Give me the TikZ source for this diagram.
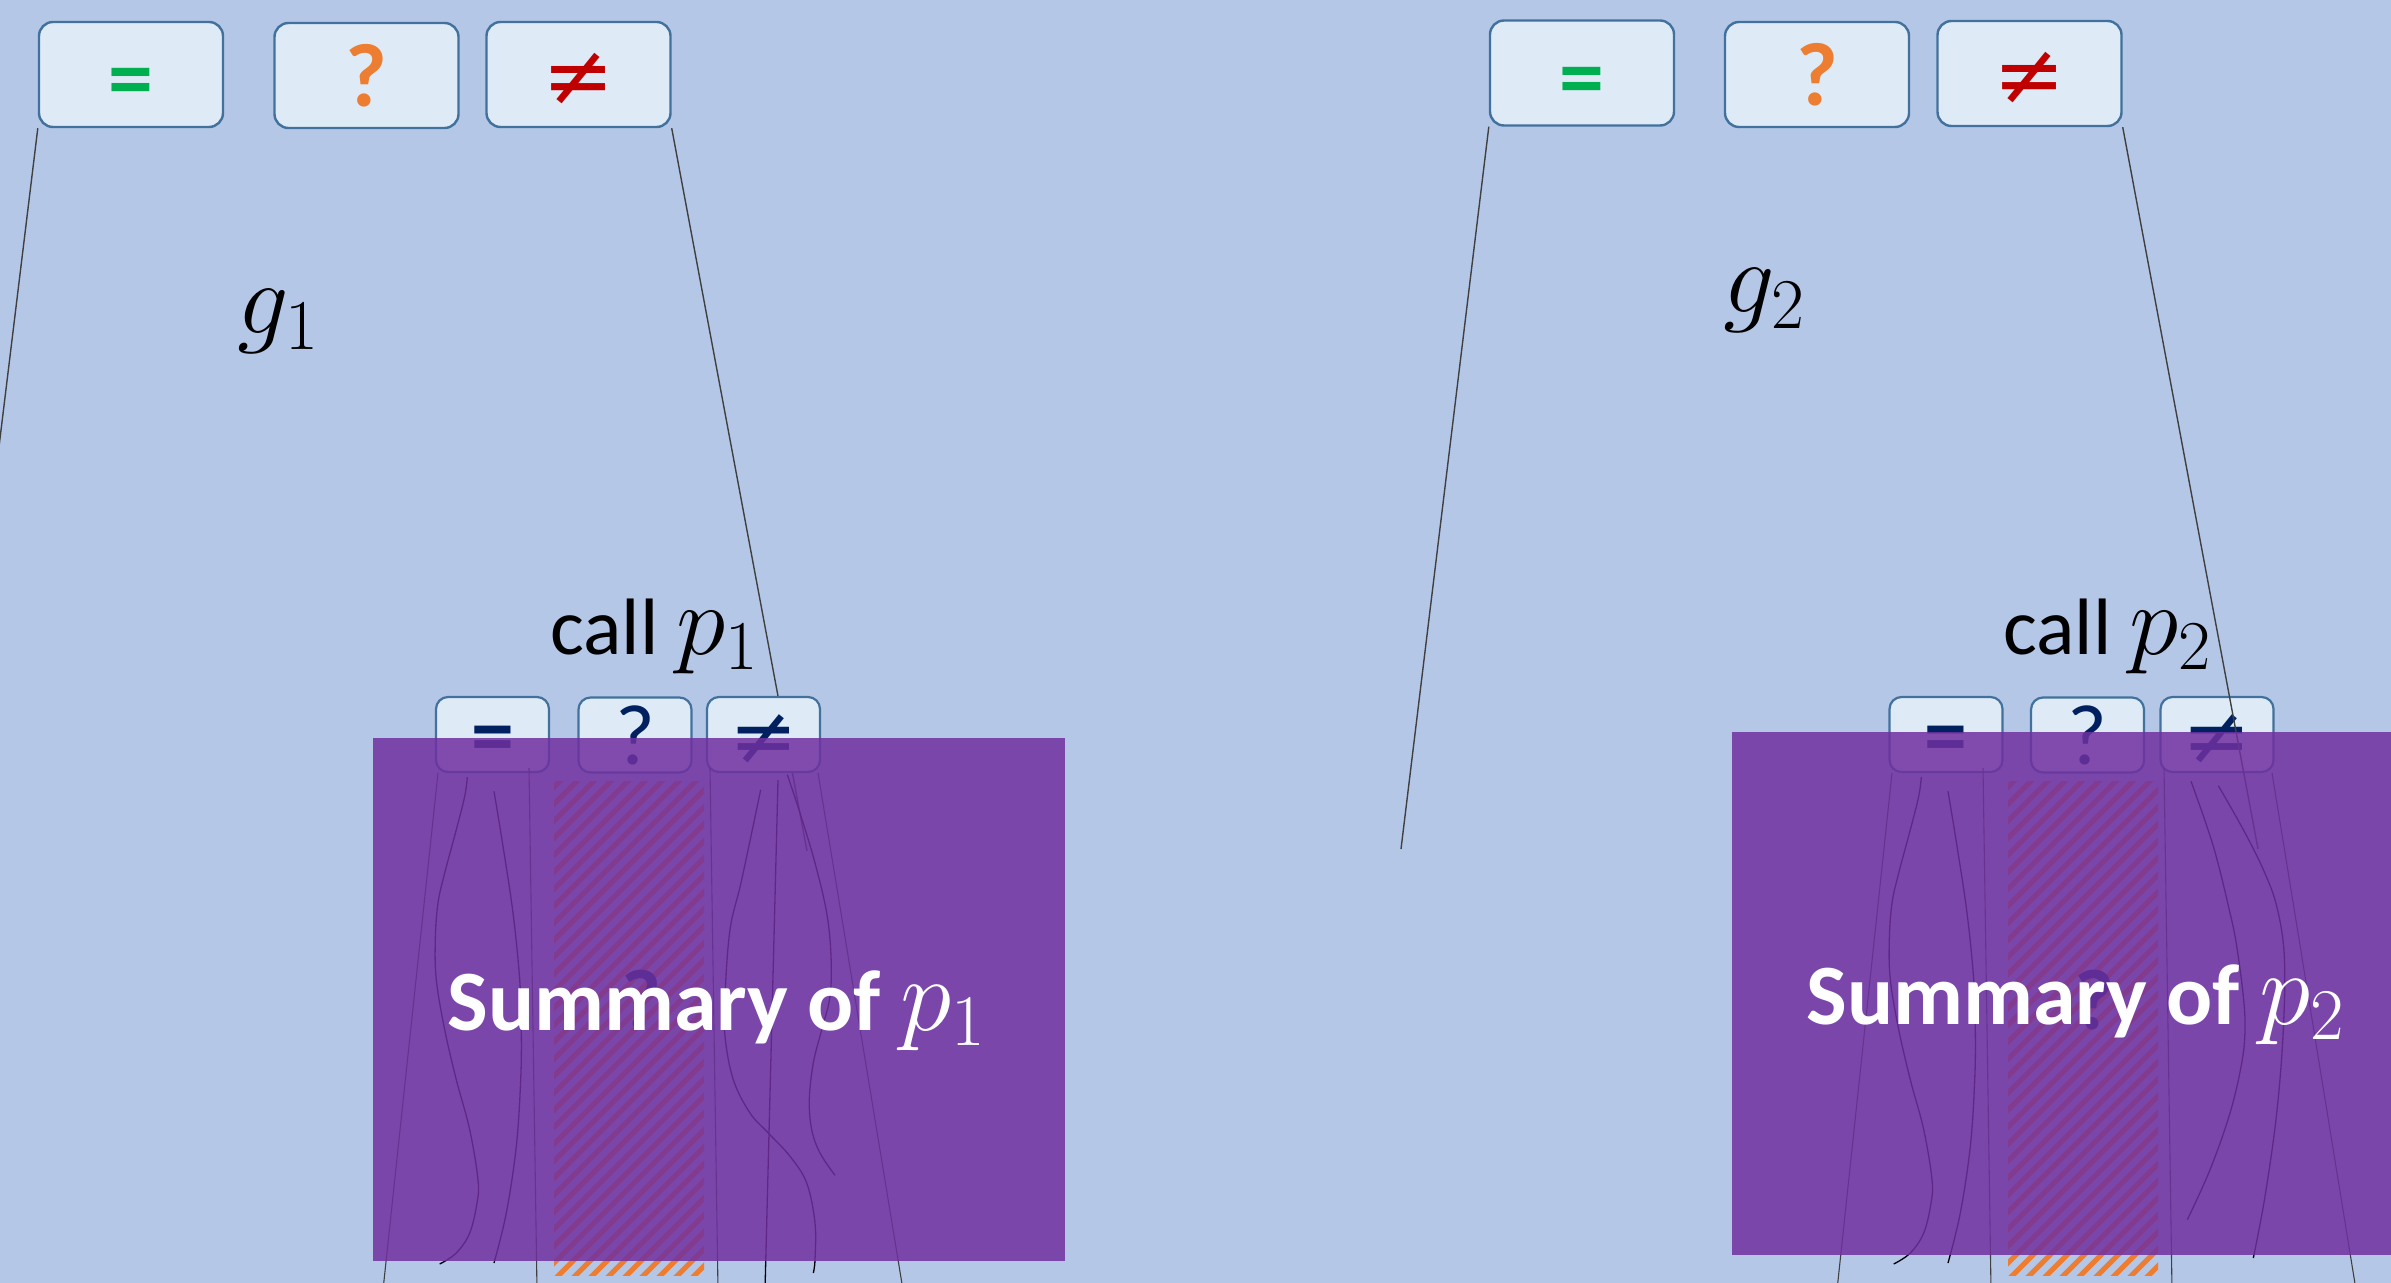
\RequirePackage{fix-cm}
\documentclass[tikz,border=0pt]{standalone}
\usepackage{fontspec}
\setmainfont{Carlito}
\newfontfamily\symfam{DejaVu Sans}
\definecolor{bg}{HTML}{B4C7E7}
\definecolor{boxfill}{HTML}{DEEBF7}
\definecolor{boxdraw}{HTML}{41719C}
\definecolor{eqgreen}{HTML}{00B050}
\definecolor{qorange}{HTML}{ED7D31}
\definecolor{nered}{HTML}{C00000}
\definecolor{navy}{HTML}{002060}
\definecolor{summpurple}{HTML}{7030A0}
\definecolor{linegray}{HTML}{404040}
\begin{document}
\begin{tikzpicture}[x=0.5pt,y=-0.5pt,
  topbox/.style={draw=boxdraw, fill=boxfill, line width=1.2pt, rounded corners=7pt,
    minimum width=92pt, minimum height=52.5pt, inner sep=0pt},
  lowbox/.style={draw=boxdraw, fill=boxfill, line width=1.1pt, rounded corners=6pt,
    minimum width=56.5pt, minimum height=37.5pt, inner sep=0pt},
  eqsym/.style={inner sep=0pt, font=\fontsize{45}{50}\selectfont\bfseries, yshift=-7pt},
  qsym/.style={inner sep=0pt, font=\fontsize{45}{50}\selectfont\bfseries},
  nesym/.style={inner sep=0pt, font=\fontsize{43}{46}\symfam, yshift=-2.5pt},
  loweq/.style={inner sep=0pt, text=navy, font=\fontsize{43}{48}\selectfont\bfseries, yshift=-5.5pt},
  lowq/.style={inner sep=0pt, text=navy, font=\fontsize{43}{48}\selectfont},
  lowne/.style={inner sep=0pt, text=navy, font=\fontsize{41}{46}\symfam, yshift=-2.5pt},
  link/.style={draw=linegray, line width=0.7pt},
  thinlink/.style={draw=linegray, line width=0.55pt},
  curvy/.style={draw=black, line width=0.65pt},
  hatchline/.style={draw=qorange, line width=2.6pt},
  summary/.style={fill=summpurple, fill opacity=0.85, draw=none},
  bigq/.style={text=navy, font=\fontsize{43}{48}\selectfont\bfseries, inner sep=0pt},
  sumtext/.style={anchor=base west, text=white, font=\fontsize{43}{50}\selectfont\bfseries, inner sep=0pt},
  calltext/.style={anchor=base west, font=\fontsize{40}{48}\selectfont, inner sep=0pt},
  glabel/.style={anchor=base west, font=\fontsize{51}{54}\selectfont, inner sep=0pt}
]
\useasboundingbox (0,0) rectangle (2391,1283);
\clip (0,0) rectangle (2391,1283);
\fill[bg] (0,0) rectangle (2391,1283);

% ---------- top boxes ----------
\node[topbox] (teqL) at (131,74.5) {};
\node[topbox] (tqL) at (366.5,75.5) {};
\node[topbox] (tneL) at (578.5,74.5) {};
\node[topbox] (teqR) at (1582,73) {};
\node[topbox] (tqR) at (1817,74.5) {};
\node[topbox] (tneR) at (2029.5,73.5) {};
\node[eqsym, text=eqgreen] (teqLs) at (teqL.center) {=};
\node[qsym, text=qorange] (tqLs) at (tqL.center) {?};
\node[nesym, text=nered] (tneLs) at (tneL.center) {≠};
\node[eqsym, text=eqgreen] (teqRs) at (teqR.center) {=};
\node[qsym, text=qorange] (tqRs) at (tqR.center) {?};
\node[nesym, text=nered] (tneRs) at (tneR.center) {≠};

% free ends of the long lines
\coordinate (endEqL) at (-50,849);
\coordinate (endEqR) at (1401,849);
\coordinate (endNeL) at (807,851);
\coordinate (endNeR) at (2258,849);

\draw[link] (teqL.south west) -- (endEqL);
\draw[link] (teqR.south west) -- (endEqR);
\draw[link] (tneL.south east) -- (endNeL);

% ---------- hatched columns ----------
\begin{scope}
  \clip (554,781) rectangle (704,1275);
  \foreach \i in {0,...,41} { \draw[hatchline] ({34+\i*17},1290) -- ++(520,-520); }
\end{scope}
\begin{scope}
  \clip (2008,781) rectangle (2158,1275);
  \foreach \i in {0,...,41} { \draw[hatchline] ({1488+\i*17},1290) -- ++(520,-520); }
\end{scope}

% ---------- lower boxes ----------
\node[lowbox] (leqL) at (492.5,734.5) {};
\node[lowbox] (lqL) at (635,735) {};
\node[lowbox] (lneL) at (763.5,734.5) {};
\node[lowbox] (leqR) at (1946,734.5) {};
\node[lowbox] (lqR) at (2087.5,735) {};
\node[lowbox] (lneR) at (2217,734.5) {};
\node[loweq] (leqLs) at (leqL.center) {=};
\node[lowq] (lqLs) at (lqL.center) {?};
\node[lowne] (lneLs) at (lneL.center) {≠};
\node[loweq] (leqRs) at (leqR.center) {=};
\node[lowq] (lqRs) at (lqR.center) {?};
\node[lowne] (lneRs) at (lneR.center) {≠};

\draw[link] (tneR.south east) -- (endNeR);

% ---------- lines under summary, left ----------
\coordinate (aL1) at (438,773);  \coordinate (aL2) at (383,1290);
\coordinate (dL1) at (529,768);  \coordinate (dL2) at (537,1290);
\coordinate (eL1) at (710,768);  \coordinate (eL2) at (718,1290);
\coordinate (gL1) at (778,780);  \coordinate (gL2) at (765,1290);
\coordinate (jL1) at (818,773);  \coordinate (jL2) at (903,1290);
\draw[thinlink] (aL1) -- (aL2);
\draw[thinlink] (dL1) -- (dL2);
\draw[thinlink] (eL1) -- (eL2);
\draw[curvy] (gL1) -- (gL2);
\draw[thinlink] (jL1) -- (jL2);
\draw[curvy] plot[smooth, tension=0.6] coordinates {(467.3,777) (464.7,796.3) (456.3,829.7) (444.7,873) (438,903) (435.3,939.7) (436.3,979.7) (444.7,1029.7) (456.3,1079.7) (469.7,1129.7) (478,1179.7) (477,1203) (469.7,1233) (456.3,1253) (439.7,1264)};
\draw[curvy] plot[smooth, tension=0.6] coordinates {(494,791.3) (503,846.3) (513,913) (519.7,979.7) (521.3,1029.7) (520.7,1079.7) (516.3,1146.3) (506.3,1213) (494,1263)};
\draw[curvy] plot[smooth, tension=0.6] coordinates {(760.7,789.7) (741.7,879.7) (730,929.7) (725,996.3) (725,1036.3) (733.3,1079.7) (750,1113) (768.3,1133) (790,1156.3) (806.7,1183) (815,1223) (815,1259.7) (813.3,1273)};
\draw[curvy] plot[smooth, tension=0.6] coordinates {(787.3,774.7) (800,813) (815,863) (826.7,913) (831,956.3) (830,996.3) (821.7,1029.7) (813.3,1063) (809.3,1099.7) (811.7,1129.7) (820,1153) (835,1175.3)};

% ---------- lines under summary, right ----------
\coordinate (aR1) at (1892,773);  \coordinate (aR2) at (1837,1290);
\coordinate (dR1) at (1983,768);  \coordinate (dR2) at (1991,1290);
\coordinate (eR1) at (2164,768);  \coordinate (eR2) at (2172,1290);
\coordinate (jR1) at (2272,773);  \coordinate (jR2) at (2356,1290);
\draw[thinlink] (aR1) -- (aR2);
\draw[thinlink] (dR1) -- (dR2);
\draw[thinlink] (eR1) -- (eR2);
\draw[thinlink] (jR1) -- (jR2);
\draw[curvy] plot[smooth, tension=0.6] coordinates {(1921.3,777) (1918.7,796.3) (1910.3,829.7) (1898.7,873) (1892,903) (1889.3,939.7) (1890.3,979.7) (1898.7,1029.7) (1910.3,1079.7) (1923.7,1129.7) (1932,1179.7) (1931,1203) (1923.7,1233) (1910.3,1253) (1893.7,1264)};
\draw[curvy] plot[smooth, tension=0.6] coordinates {(1948,791.3) (1957,846.3) (1967,913) (1973.7,979.7) (1975.3,1029.7) (1974.7,1079.7) (1970.3,1146.3) (1960.3,1213) (1948,1263)};
\draw[curvy] plot[smooth, tension=0.6] coordinates {(2191,781.3) (2213.3,846.3) (2230,913) (2236.7,946.3) (2243.3,996.3) (2245,1029.7) (2241.7,1063) (2230,1113) (2210,1169.7) (2187.3,1219.7)};
\draw[curvy] plot[smooth, tension=0.6] coordinates {(2218.3,785.7) (2243.3,829.7) (2263.3,869.7) (2276.7,906.3) (2284.3,956.3) (2283.3,1029.7) (2276.7,1113) (2265,1196.3) (2253.3,1258)};

% ---------- hidden question marks ----------
\node[bigq] (qL) at (641,1000) {?};
\node[bigq] (qR) at (2094,1000) {?};

% ---------- summary overlays ----------
\path[summary] (373,738) rectangle (1065,1261);
\path[summary] (1732,732) rectangle (2400,1255);
\node[sumtext] (sumL) at (447,1030) {Summary of {\fontsize{52}{56}\selectfont$p_1$}};
\node[sumtext] (sumR) at (1806,1024) {Summary of {\fontsize{52}{56}\selectfont$p_2$}};

% ---------- labels ----------
\node[glabel] (g1) at (237,334) {$g_1$};
\node[glabel] (g2) at (1723,313) {$g_2$};
\node[calltext] (callL) at (550,654) {call {\fontsize{50}{54}\selectfont$p_1$}};
\node[calltext] (callR) at (2003,654) {call {\fontsize{50}{54}\selectfont$p_2$}};
\end{tikzpicture}
\end{document}
